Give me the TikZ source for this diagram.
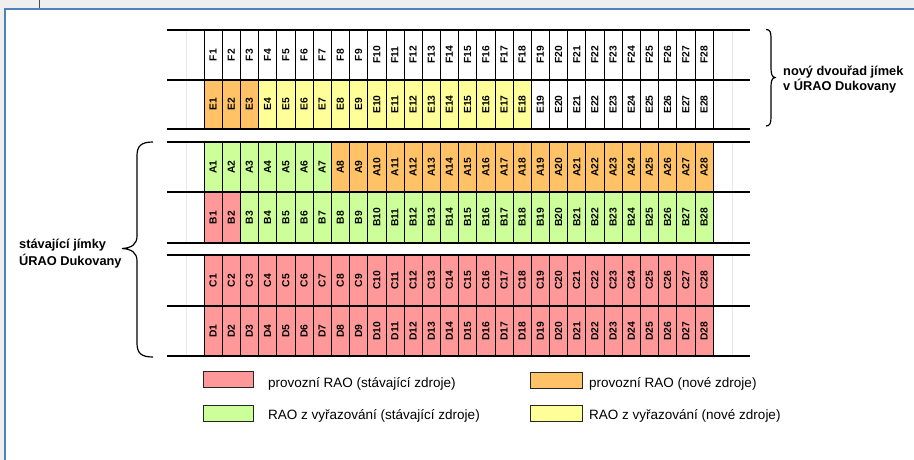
\documentclass[tikz,border=0pt]{standalone}
\usepackage{fontspec}
\setmainfont{Liberation Sans}
\definecolor{cpink}{HTML}{FF9999}
\definecolor{cgreen}{HTML}{CCFF99}
\definecolor{corange}{HTML}{FFC266}
\definecolor{cyellow}{HTML}{FFFF99}
\definecolor{frameblue}{HTML}{4F81BD}
\definecolor{stripgray}{HTML}{EFEFEF}
\begin{document}
\begin{tikzpicture}[x=1pt,y=-1pt,
  cell/.style={draw=black, line width=0.6pt, rectangle, inner sep=0pt,
    minimum width=18.18pt, minimum height=50pt,
    font=\fontsize{10.3}{12}\selectfont\bfseries},
  secline/.style={line width=1.3pt, black},
  faint/.style={line width=0.5pt, black!9},
  bracetext/.style={anchor=base west, inner sep=0pt, font=\fontsize{12.8}{15}\selectfont\bfseries},
  legbox/.style={draw=black!85, line width=1pt, rectangle, inner sep=0pt, minimum width=50pt, minimum height=16pt},
  legtext/.style={anchor=base west, inner sep=0pt, font=\fontsize{13.5}{16}\selectfont},
  bracepath/.style={line width=1.2pt, black}
]
\useasboundingbox (0,0) rectangle (914,460);
\fill[white] (0,0) rectangle (914,460);
% window frame
\fill[stripgray] (0,0) rectangle (914,8);
\fill[stripgray] (0,0) rectangle (4,460);
\draw[black!70, line width=0.8pt] (39.5,0) -- (39.5,8);
\draw[frameblue, line width=2pt] (5,460) -- (5,9) -- (914,9);

% faint margin lines
\foreach \ya/\yb in {30/129, 142/243, 255/356} {
  \draw[faint] (186,\ya) -- (186,\yb);
  \draw[faint] (732,\ya) -- (732,\yb);
}

% row F
\foreach \i in {1,...,28}
  \node[cell, fill=white] (F\i) at ({204+(\i-0.5)*18.18},55) {\rotatebox{90}{F\i}};
% row E
\foreach \i in {1,...,3}
  \node[cell, fill=corange, minimum height=49pt] (E\i) at ({204+(\i-0.5)*18.18},104.5) {\rotatebox{90}{E\i}};
\foreach \i in {4,...,18}
  \node[cell, fill=cyellow, minimum height=49pt] (E\i) at ({204+(\i-0.5)*18.18},104.5) {\rotatebox{90}{E\i}};
\foreach \i in {19,...,28}
  \node[cell, fill=white, minimum height=49pt] (E\i) at ({204+(\i-0.5)*18.18},104.5) {\rotatebox{90}{E\i}};
% row A
\foreach \i in {1,...,7}
  \node[cell, fill=cgreen] (A\i) at ({204+(\i-0.5)*18.18},167) {\rotatebox{90}{A\i}};
\foreach \i in {8,...,28}
  \node[cell, fill=corange] (A\i) at ({204+(\i-0.5)*18.18},167) {\rotatebox{90}{A\i}};
% row B
\foreach \i in {1,2}
  \node[cell, fill=cpink, minimum height=51pt] (B\i) at ({204+(\i-0.5)*18.18},217.5) {\rotatebox{90}{B\i}};
\foreach \i in {3,...,28}
  \node[cell, fill=cgreen, minimum height=51pt] (B\i) at ({204+(\i-0.5)*18.18},217.5) {\rotatebox{90}{B\i}};
% rows C, D
\foreach \i in {1,...,28}
  \node[cell, fill=cpink, minimum height=51pt] (C\i) at ({204+(\i-0.5)*18.18},280.5) {\rotatebox{90}{C\i}};
\foreach \i in {1,...,28}
  \node[cell, fill=cpink] (D\i) at ({204+(\i-0.5)*18.18},331) {\rotatebox{90}{D\i}};

% section lines
\foreach \yy in {30,80,129,142,192,243,255,306,356}
  \draw[secline] (167,\yy) -- (750,\yy);

% right brace
\draw[bracepath] (766,29.5) .. controls (770,29.5) and (771,32) .. (771,38)
  -- (771,68) .. controls (771,74) and (772,77) .. (775,77.5)
  .. controls (772,78) and (771,81) .. (771,87)
  -- (771,117) .. controls (771,123) and (770,126) .. (766,126);
\node[bracetext] (nt1) at (783,76) {nový dvouřad jímek};
\node[bracetext] (nt2) at (783,90.5) {v ÚRAO Dukovany};

% left brace
\draw[bracepath] (153,142) .. controls (141,142) and (137,146) .. (137,156)
  -- (137,236) .. controls (137,244) and (132,248) .. (122,248.5)
  .. controls (132,249) and (137,253) .. (137,261)
  -- (137,343) .. controls (137,353) and (141,357) .. (153,357);
\node[bracetext] (st1) at (19,248) {stávající jímky};
\node[bracetext] (st2) at (19,265) {ÚRAO Dukovany};

% legend
\node[legbox, fill=cpink] (lg1) at (228,379.5) {};
\node[legtext] (lt1) at (268,387) {provozní RAO (stávající zdroje)};
\node[legbox, fill=cgreen] (lg2) at (228,413) {};
\node[legtext] (lt2) at (268,419) {RAO z vyřazování (stávající zdroje)};
\node[legbox, fill=corange, minimum width=52pt] (lg3) at (556,380) {};
\node[legtext] (lt3) at (589,387) {provozní RAO (nové zdroje)};
\node[legbox, fill=cyellow, minimum width=52pt] (lg4) at (556,413) {};
\node[legtext] (lt4) at (589,419) {RAO z vyřazování (nové zdroje)};
\end{tikzpicture}
\end{document}
